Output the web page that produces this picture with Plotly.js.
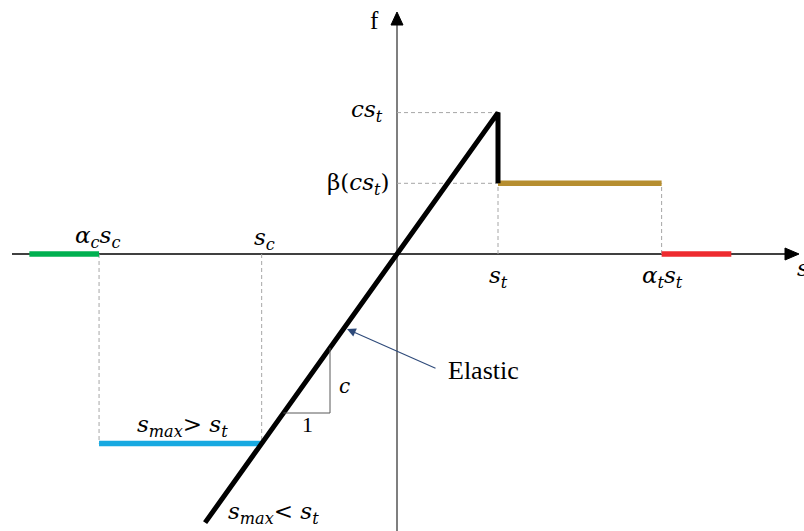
<!DOCTYPE html>
<html>
<head>
<meta charset="utf-8">
<script src="https://cdn.plot.ly/plotly-3.0.1.min.js"></script>
<style>
  html, body { margin: 0; padding: 0; background: #ffffff; }
  #chart { width: 804px; height: 531px; }
</style>
</head>
<body>
<div id="chart"></div>
<script>
// Bilinear cohesive law f(s): elastic branch, softened plateau, and failure states.
// Units are normalised so that s_t = 1.
const sT = 1.0;          // tensile limit displacement
const cStiff = 1.4;      // elastic stiffness c
const beta = 0.5;        // residual factor β
const alphaT = 2.62;     // α_t
const sC = -1.34;        // compressive displacement s_c
const alphaC = 2.2;      // α_c

// Elastic branch and the drop at s_t
const elasticS = [-1.9, 1.0, 1.0];
const elasticF = [-2.66, 1.4, 0.7];
// Residual plateau after cracking
const plateauS = [1.0, 2.62];
const plateauF = [0.7, 0.7];
// Fully opened (tension) and crushed (compression) segments on the s axis
const tensionFailS = [2.62, 3.31];
const tensionFailF = [0, 0];
const compFailS = [-3.64, -2.95];
const compFailF = [0, 0];
// Unloading plateau when s_max > s_t
const unloadS = [-2.95, -1.34];
const unloadF = [-1.876, -1.876];

const peakF = cStiff * sT;
const resF = beta * peakF;
const aT = alphaT * sT;
const unloadLevel = unloadF[0];

const PX = 101; // px per unit
const X = px => (px - 397) / PX;
const Y = py => (254 - py) / PX;

const traces = [
  {x: compFailS, y: compFailF, mode: 'lines', line: {color: '#00b050', width: 5.5}},
  {x: tensionFailS, y: tensionFailF, mode: 'lines', line: {color: '#ee2b2f', width: 5.5}},
  {x: plateauS, y: plateauF, mode: 'lines', line: {color: '#b68e30', width: 5.5}},
  {x: unloadS, y: unloadF, mode: 'lines', line: {color: '#17a9e1', width: 5.5}},
  {x: elasticS, y: elasticF, mode: 'lines', line: {color: '#000000', width: 5}}
];
traces.forEach(t => { t.hoverinfo = 'skip'; t.showlegend = false; });

const dash = (x0, y0, x1, y1) => ({type: 'line', xref: 'x', yref: 'y', x0, y0, x1, y1,
  line: {color: '#a6a6a6', width: 1, dash: '4px,3px'}, layer: 'below'});

const yLine = t => cStiff * t; // point on the elastic branch
const triX = X(330), triYb = Y(413);

const shapes = [
  // s axis
  {type: 'line', xref: 'x', yref: 'y', x0: X(12), y0: 0, x1: X(786), y1: 0,
   line: {color: '#000000', width: 1.3}, layer: 'below'},
  {type: 'path', xref: 'x', yref: 'y',
   path: `M ${X(799)} 0 L ${X(785)} ${Y(248)} L ${X(785)} ${Y(260)} Z`,
   fillcolor: '#000000', line: {color: '#000000', width: 1}},
  // f axis
  {type: 'line', xref: 'x', yref: 'y', x0: 0, y0: Y(531), x1: 0, y1: Y(24),
   line: {color: '#7f7f7f', width: 2}, layer: 'below'},
  {type: 'path', xref: 'x', yref: 'y',
   path: `M 0 ${Y(12)} L ${X(391)} ${Y(25)} L ${X(403)} ${Y(25)} Z`,
   fillcolor: '#000000', line: {color: '#000000', width: 1}},
  // guide lines
  dash(0, peakF, sT, peakF),
  dash(0, resF, sT, resF),
  dash(sT, 0, sT, resF),
  dash(aT, 0, aT, resF),
  dash(-2.95, 0, -2.95, unloadLevel),
  dash(sC, 0, sC, unloadLevel),
  // slope triangle
  {type: 'line', xref: 'x', yref: 'y', x0: triX, y0: yLine(triX), x1: triX, y1: triYb,
   line: {color: '#595959', width: 1}},
  {type: 'line', xref: 'x', yref: 'y', x0: triYb / cStiff, y0: triYb, x1: triX, y1: triYb,
   line: {color: '#595959', width: 1}}
];

const mathFont = {family: 'DejaVu Serif', size: 23, color: '#000000'};
const lab = (x, y, text, xanchor, extra) => Object.assign({
  xref: 'x', yref: 'y', x, y, text, showarrow: false, xanchor: xanchor || 'center',
  yanchor: 'middle', font: mathFont}, extra || {});

const annotations = [
  lab(X(374), Y(20), 'f', 'center', {font: {family: 'Liberation Serif', size: 25, color: '#000'}}),
  lab(X(795), Y(268), '<i>s</i>', 'left'),
  lab(X(385), Y(111), '<i>cs<sub>t</sub></i>', 'right'),
  lab(X(391), Y(184), 'β(<i>cs<sub>t</sub></i>)', 'right'),
  lab(X(498), Y(277), '<i>s<sub>t</sub></i>'),
  lab(X(662), Y(277), '<i>α<sub>t</sub>s<sub>t</sub></i>'),
  lab(X(97), Y(237), '<i>α<sub>c</sub>s<sub>c</sub></i>'),
  lab(X(264), Y(239), '<i>s<sub>c</sub></i>'),
  lab(X(182), Y(426), '<i>s<sub>max</sub></i>> <i>s<sub>t</sub></i>'),
  lab(X(273), Y(513), '<i>s<sub>max</sub></i>< <i>s<sub>t</sub></i>'),
  lab(X(344), Y(386), '<i>c</i>', 'center', {font: {family: 'DejaVu Serif', size: 20, color: '#000'}}),
  lab(X(307), Y(424), '1', 'center', {font: {family: 'Liberation Serif', size: 22, color: '#000'}}),
  // Elastic pointer
  {xref: 'x', yref: 'y', axref: 'x', ayref: 'y', x: X(347), y: Y(329), ax: X(437), ay: Y(369),
   text: '', showarrow: true, arrowhead: 2, arrowsize: 1.6, arrowwidth: 1.1, arrowcolor: '#2e4a7a', standoff: 0},
  lab(X(446), Y(370), 'Elastic', 'left', {font: {family: 'Liberation Serif', size: 26, color: '#000'}})
];

const layout = {
  width: 804, height: 531,
  margin: {l: 0, r: 0, t: 0, b: 0},
  paper_bgcolor: '#ffffff', plot_bgcolor: '#ffffff',
  xaxis: {range: [X(0), X(804)], visible: false, fixedrange: true},
  yaxis: {range: [Y(531), Y(0)], visible: false, fixedrange: true},
  shapes, annotations, showlegend: false
};

Plotly.newPlot('chart', traces, layout, {staticPlot: true, displayModeBar: false});
</script>
</body>
</html>
